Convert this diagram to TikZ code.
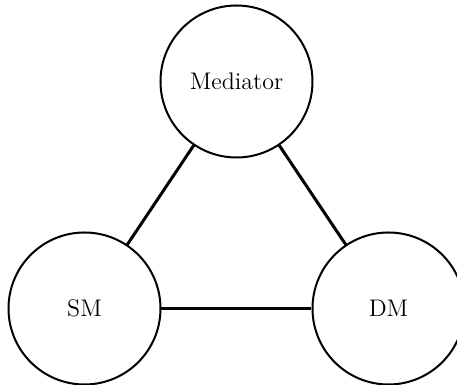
\documentclass[tikz,border=0pt]{standalone}
\begin{document}
\begin{tikzpicture}[x=0.5pt,y=0.5pt,
  agent/.style={circle,draw,line width=1pt,minimum size=76pt,inner sep=0pt,font=\large},
  link/.style={line width=1.5pt}]
\useasboundingbox (0,0) rectangle (457,385);
\node[agent] (med) at (236.5,303.5) {Mediator};
\node[agent] (sm) at (84.5,76.5) {SM};
\node[agent] (dm) at (388.5,76.5) {DM};
\draw[link] (med) -- (sm);
\draw[link] (med) -- (dm);
\draw[link] (sm) -- (dm);
\end{tikzpicture}
\end{document}
